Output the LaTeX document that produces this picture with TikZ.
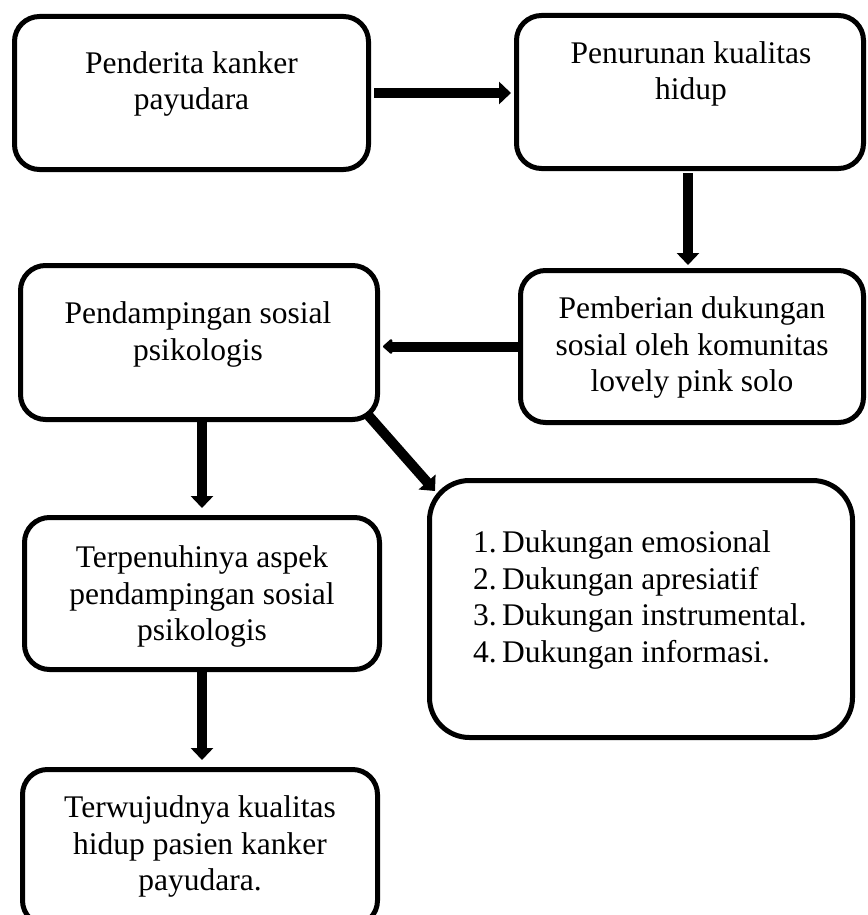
\documentclass[tikz,border=0pt]{standalone}
\usepackage{fontspec}
\setmainfont{Liberation Serif}
\usetikzlibrary{arrows.meta}
\tikzset{
  box/.style={draw, line width=5pt, rounded corners=25pt, inner sep=0pt},
  txt/.style={anchor=north, inner sep=0pt, align=center,
    font=\fontsize{31.5}{36.8}\selectfont},
  flow/.style={line width=10pt, -{Triangle[width=22pt,length=12pt]}},
  flowsmall/.style={line width=10pt, -{Triangle[width=17pt,length=10pt,round]}}
}
\newcommand{\fl}{\rule{0pt}{23pt}}
\begin{document}
\begin{tikzpicture}[x=1pt,y=-1pt]
\useasboundingbox (0,0) rectangle (867,915);
% boxes
\node[box, minimum width=354pt, minimum height=153pt] (b1) at (191.5,93) {};
\node[box, minimum width=347pt, minimum height=153pt] (b2) at (690,92) {};
\node[box, minimum width=343pt, minimum height=152pt] (b3) at (692,346.5) {};
\node[box, minimum width=357pt, minimum height=154pt] (b4) at (199,342.5) {};
\node[box, minimum width=355pt, minimum height=152pt] (b5) at (202,593.5) {};
\node[box, rounded corners=40pt, minimum width=423pt, minimum height=257pt] (b6) at (641,609) {};
\node[box, minimum width=355pt, minimum height=156pt] (b7) at (200,847.5) {};
% texts
\node[txt] (t1) at (191.5,50) {\fl Penderita kanker\\payudara};
\node[txt] (t2) at (691,40) {\fl Penurunan kualitas\\hidup};
\node[txt] (t3) at (692,295) {\fl Pemberian dukungan\\sosial oleh komunitas\\lovely pink solo};
\node[txt] (t4) at (198,300) {\fl Pendampingan sosial\\psikologis};
\node[txt] (t5) at (202,544) {\fl Terpenuhinya aspek\\pendampingan sosial\\psikologis};
\node[txt, anchor=north west, align=left] (t6) at (473,529) {\fl\makebox[29pt][l]{1.}Dukungan emosional\\
\makebox[29pt][l]{2.}Dukungan apresiatif\\
\makebox[29pt][l]{3.}Dukungan instrumental.\\
\makebox[29pt][l]{4.}Dukungan informasi.};
\node[txt] (t7) at (200,794) {\fl Terwujudnya kualitas\\hidup pasien kanker\\payudara.};
% connectors
\draw[flow, shorten <=3pt, shorten >=3pt] (b1.east) -- (b1.east -| b2.west);
\draw[flow, shorten <=2pt, shorten >=3pt] ([xshift=-2pt]b2.south) -- ([xshift=-2pt]b2.south |- b3.north);
\draw[flowsmall, shorten >=3pt] (b3.west) -- (b3.west -| b4.east);
\draw[flow, shorten >=7pt] (b4.south -| b5.north) -- (b5.north);
\coordinate (d1) at (368,415);
\coordinate (d2) at (435,491);
\draw[flow] (d1) -- (d2);
\draw[flow, shorten >=7pt] (b5.south) -- (b5.south |- b7.north);
\end{tikzpicture}
\end{document}
